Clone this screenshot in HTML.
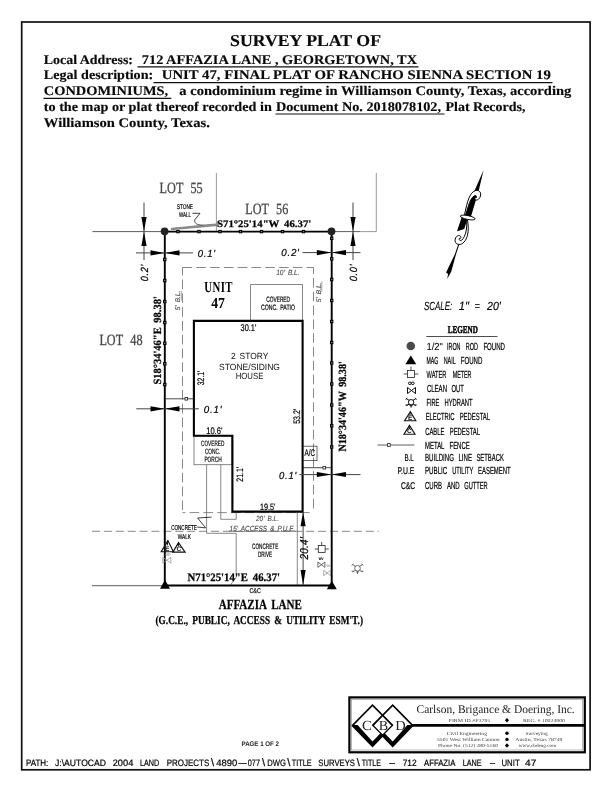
<!DOCTYPE html>
<html lang="en">
<head>
<meta charset="utf-8">
<title>Survey Plat - 712 Affazia Lane</title>
<style>
html,body{margin:0;padding:0;background:#fff;}
body{width:612px;height:792px;overflow:hidden;}
svg{display:block;will-change:transform;transform:translateZ(0);}
text{white-space:pre;text-rendering:geometricPrecision;}
</style>
</head>
<body>
<svg width="612" height="792" viewBox="0 0 612 792">
<rect x="0" y="0" width="612" height="792" fill="#fff"/>
<rect x="21.70" y="22.00" width="568.40" height="747.80" stroke="#111" stroke-width="1.7" fill="none"/>
<text x="230.00" y="46.30" font-family='"Liberation Serif", serif' font-size="16.62" fill="#0a0a0a" font-weight="bold" textLength="151.00" lengthAdjust="spacingAndGlyphs" stroke="#0a0a0a" stroke-width="0.15"  xml:space="preserve">SURVEY PLAT OF</text>
<text x="43.80" y="63.50" font-family='"Liberation Serif", serif' font-size="13.29" fill="#0a0a0a" font-weight="bold" textLength="89.20" lengthAdjust="spacingAndGlyphs" stroke="#0a0a0a" stroke-width="0.15"  xml:space="preserve">Local Address:</text>
<text x="141.80" y="63.50" font-family='"Liberation Serif", serif' font-size="13.29" fill="#0a0a0a" font-weight="bold" textLength="275.20" lengthAdjust="spacingAndGlyphs" stroke="#0a0a0a" stroke-width="0.15"  xml:space="preserve">712 AFFAZIA LANE , GEORGETOWN, TX</text>
<line x1="137.50" y1="66.80" x2="418.50" y2="66.80" stroke="#111" stroke-width="1.2" />
<text x="43.80" y="79.30" font-family='"Liberation Serif", serif' font-size="13.29" fill="#0a0a0a" font-weight="bold" textLength="109.40" lengthAdjust="spacingAndGlyphs" stroke="#0a0a0a" stroke-width="0.15"  xml:space="preserve">Legal description:</text>
<text x="161.80" y="79.30" font-family='"Liberation Serif", serif' font-size="13.29" fill="#0a0a0a" font-weight="bold" textLength="389.00" lengthAdjust="spacingAndGlyphs" stroke="#0a0a0a" stroke-width="0.15"  xml:space="preserve">UNIT 47, FINAL PLAT OF RANCHO SIENNA SECTION 19</text>
<line x1="153.50" y1="82.60" x2="552.50" y2="82.60" stroke="#111" stroke-width="1.2" />
<text x="43.80" y="95.00" font-family='"Liberation Serif", serif' font-size="13.29" fill="#0a0a0a" font-weight="bold" textLength="124.40" lengthAdjust="spacingAndGlyphs" stroke="#0a0a0a" stroke-width="0.15"  xml:space="preserve">CONDOMINIUMS,</text>
<line x1="43.50" y1="98.30" x2="171.30" y2="98.30" stroke="#111" stroke-width="1.2" />
<text x="179.30" y="95.00" font-family='"Liberation Serif", serif' font-size="13.29" fill="#0a0a0a" font-weight="bold" textLength="392.00" lengthAdjust="spacingAndGlyphs" stroke="#0a0a0a" stroke-width="0.15"  xml:space="preserve">a condominium regime in Williamson County, Texas, according</text>
<text x="43.80" y="110.70" font-family='"Liberation Serif", serif' font-size="13.29" fill="#0a0a0a" font-weight="bold" textLength="228.00" lengthAdjust="spacingAndGlyphs" stroke="#0a0a0a" stroke-width="0.15"  xml:space="preserve">to the map or plat thereof recorded in</text>
<text x="276.00" y="110.70" font-family='"Liberation Serif", serif' font-size="13.29" fill="#0a0a0a" font-weight="bold" textLength="165.00" lengthAdjust="spacingAndGlyphs" stroke="#0a0a0a" stroke-width="0.15"  xml:space="preserve">Document No. 2018078102,</text>
<line x1="275.50" y1="114.00" x2="444.50" y2="114.00" stroke="#111" stroke-width="1.2" />
<text x="445.50" y="110.70" font-family='"Liberation Serif", serif' font-size="13.29" fill="#0a0a0a" font-weight="bold" textLength="80.00" lengthAdjust="spacingAndGlyphs" stroke="#0a0a0a" stroke-width="0.15"  xml:space="preserve">Plat Records,</text>
<text x="43.80" y="126.50" font-family='"Liberation Serif", serif' font-size="13.29" fill="#0a0a0a" font-weight="bold" textLength="166.00" lengthAdjust="spacingAndGlyphs" stroke="#0a0a0a" stroke-width="0.15"  xml:space="preserve">Williamson County, Texas.</text>
<line x1="92.50" y1="231.60" x2="165.00" y2="231.60" stroke="#333" stroke-width="0.8" />
<line x1="216.40" y1="173.00" x2="216.40" y2="231.00" stroke="#808080" stroke-width="0.8" />
<line x1="376.30" y1="173.00" x2="376.30" y2="231.60" stroke="#808080" stroke-width="0.8" />
<line x1="331.50" y1="231.60" x2="360.00" y2="231.60" stroke="#333" stroke-width="0.8" />
<line x1="360.00" y1="231.60" x2="376.30" y2="231.60" stroke="#808080" stroke-width="0.8" />
<line x1="92.00" y1="585.70" x2="165.00" y2="585.70" stroke="#333" stroke-width="0.8" />
<line x1="92.00" y1="531.30" x2="378.80" y2="531.30" stroke="#6a6a6a" stroke-width="0.8" stroke-dasharray="8 3.9"/>
<text x="159.60" y="193.20" font-family='"Liberation Serif", serif' font-size="15.56" fill="#484848" textLength="43.10" lengthAdjust="spacingAndGlyphs" word-spacing="5.45" stroke="#484848" stroke-width="0.3"  xml:space="preserve">LOT 55</text>
<text x="245.20" y="214.00" font-family='"Liberation Serif", serif' font-size="15.56" fill="#484848" textLength="43.10" lengthAdjust="spacingAndGlyphs" word-spacing="5.45" stroke="#484848" stroke-width="0.3"  xml:space="preserve">LOT 56</text>
<text x="99.40" y="344.70" font-family='"Liberation Serif", serif' font-size="15.56" fill="#484848" textLength="43.10" lengthAdjust="spacingAndGlyphs" word-spacing="5.45" stroke="#484848" stroke-width="0.3"  xml:space="preserve">LOT 48</text>
<line x1="182.50" y1="267.50" x2="313.50" y2="267.50" stroke="#6a6a6a" stroke-width="0.8" stroke-dasharray="9.6 4.2"/>
<line x1="182.50" y1="267.50" x2="182.50" y2="512.60" stroke="#6a6a6a" stroke-width="0.8" stroke-dasharray="9.6 4.2" stroke-dashoffset="1.7"/>
<line x1="313.50" y1="267.50" x2="313.50" y2="512.60" stroke="#6a6a6a" stroke-width="0.8" stroke-dasharray="9.6 4.2" stroke-dashoffset="3.3"/>
<line x1="182.50" y1="512.60" x2="313.50" y2="512.60" stroke="#6a6a6a" stroke-width="0.8" stroke-dasharray="9.6 4.2" stroke-dashoffset="6.7"/>
<path d="M250.5 320.5 V284.5 H302.5 V320.5" stroke="#6a6a6a" stroke-width="0.8" fill="none" />
<rect x="194.00" y="436.00" width="38.00" height="28.70" stroke="#6a6a6a" stroke-width="0.8" fill="none"/>
<path d="M206.6 464.7 V533.3 H236.2 V577.5 L230.0 585.5" stroke="#6a6a6a" stroke-width="0.8" fill="none" />
<path d="M220.8 464.7 V519.3 H236.2 V512.5" stroke="#6a6a6a" stroke-width="0.8" fill="none" />
<line x1="297.30" y1="512.50" x2="297.30" y2="585.00" stroke="#6a6a6a" stroke-width="0.8" />
<rect x="302.60" y="446.20" width="14.40" height="14.40" stroke="#444" stroke-width="0.8" fill="none"/>
<path d="M164.8 231.6 H331.7 V585.5 H164.8 Z" stroke="#000" stroke-width="1.9" fill="none" />
<rect x="176.80" y="230.40" width="2.40" height="2.40" stroke="#000" stroke-width="1.0" fill="#777"/>
<rect x="197.80" y="230.40" width="2.40" height="2.40" stroke="#000" stroke-width="1.0" fill="#777"/>
<rect x="218.80" y="230.40" width="2.40" height="2.40" stroke="#000" stroke-width="1.0" fill="#777"/>
<rect x="239.30" y="230.40" width="2.40" height="2.40" stroke="#000" stroke-width="1.0" fill="#777"/>
<rect x="260.30" y="230.40" width="2.40" height="2.40" stroke="#000" stroke-width="1.0" fill="#777"/>
<rect x="281.30" y="230.40" width="2.40" height="2.40" stroke="#000" stroke-width="1.0" fill="#777"/>
<rect x="302.30" y="230.40" width="2.40" height="2.40" stroke="#000" stroke-width="1.0" fill="#777"/>
<rect x="163.60" y="258.30" width="2.40" height="2.40" stroke="#000" stroke-width="1.0" fill="#777"/>
<rect x="163.60" y="279.30" width="2.40" height="2.40" stroke="#000" stroke-width="1.0" fill="#777"/>
<rect x="163.60" y="300.30" width="2.40" height="2.40" stroke="#000" stroke-width="1.0" fill="#777"/>
<rect x="163.60" y="321.30" width="2.40" height="2.40" stroke="#000" stroke-width="1.0" fill="#777"/>
<rect x="163.60" y="342.10" width="2.40" height="2.40" stroke="#000" stroke-width="1.0" fill="#777"/>
<rect x="163.60" y="362.60" width="2.40" height="2.40" stroke="#000" stroke-width="1.0" fill="#777"/>
<rect x="163.60" y="383.30" width="2.40" height="2.40" stroke="#000" stroke-width="1.0" fill="#777"/>
<rect x="330.50" y="237.10" width="2.40" height="2.40" stroke="#000" stroke-width="1.0" fill="#777"/>
<rect x="330.50" y="257.60" width="2.40" height="2.40" stroke="#000" stroke-width="1.0" fill="#777"/>
<rect x="330.50" y="278.30" width="2.40" height="2.40" stroke="#000" stroke-width="1.0" fill="#777"/>
<rect x="330.50" y="299.30" width="2.40" height="2.40" stroke="#000" stroke-width="1.0" fill="#777"/>
<rect x="330.50" y="320.30" width="2.40" height="2.40" stroke="#000" stroke-width="1.0" fill="#777"/>
<rect x="330.50" y="341.30" width="2.40" height="2.40" stroke="#000" stroke-width="1.0" fill="#777"/>
<rect x="330.50" y="361.80" width="2.40" height="2.40" stroke="#000" stroke-width="1.0" fill="#777"/>
<rect x="330.50" y="382.80" width="2.40" height="2.40" stroke="#000" stroke-width="1.0" fill="#777"/>
<rect x="330.50" y="403.80" width="2.40" height="2.40" stroke="#000" stroke-width="1.0" fill="#777"/>
<rect x="330.50" y="424.60" width="2.40" height="2.40" stroke="#000" stroke-width="1.0" fill="#777"/>
<rect x="330.50" y="445.80" width="2.40" height="2.40" stroke="#000" stroke-width="1.0" fill="#777"/>
<line x1="164.80" y1="398.80" x2="193.50" y2="398.80" stroke="#333" stroke-width="0.9" />
<rect x="185.00" y="397.50" width="2.60" height="2.60" stroke="#222" stroke-width="0.8" fill="#fff"/>
<line x1="303.00" y1="467.70" x2="331.70" y2="467.70" stroke="#333" stroke-width="0.9" />
<rect x="323.00" y="466.40" width="2.60" height="2.60" stroke="#222" stroke-width="0.8" fill="#fff"/>
<circle cx="164.6" cy="231.3" r="3.9" fill="#222"/>
<circle cx="331.5" cy="231.3" r="3.9" fill="#222"/>
<polygon points="165.00,579.80 160.00,588.80 170.00,588.80" fill="#000" stroke="none" stroke-width="0"/>
<polygon points="331.80,580.80 326.80,589.30 336.80,589.30" fill="#000" stroke="none" stroke-width="0"/>
<path d="M193.9 320.9 H302.6 V511.6 H232.4 V435.7 H193.9 Z" stroke="#000" stroke-width="2.1" fill="none" />
<line x1="144.00" y1="202.50" x2="144.00" y2="260.00" stroke="#444" stroke-width="1.0" />
<polygon points="144.00,231.60 141.40,217.00 146.60,217.00" fill="#000" stroke="none" stroke-width="0"/>
<polygon points="144.00,231.60 141.40,246.00 146.60,246.00" fill="#000" stroke="none" stroke-width="0"/>
<line x1="136.00" y1="252.90" x2="193.00" y2="252.90" stroke="#444" stroke-width="1.0" />
<polygon points="164.80,252.90 150.50,250.30 150.50,255.50" fill="#000" stroke="none" stroke-width="0"/>
<polygon points="164.80,252.90 179.50,250.30 179.50,255.50" fill="#000" stroke="none" stroke-width="0"/>
<line x1="353.00" y1="202.50" x2="353.00" y2="260.00" stroke="#444" stroke-width="1.0" />
<polygon points="353.00,231.60 350.40,217.00 355.60,217.00" fill="#000" stroke="none" stroke-width="0"/>
<polygon points="353.00,231.60 350.40,246.00 355.60,246.00" fill="#000" stroke="none" stroke-width="0"/>
<line x1="302.50" y1="252.60" x2="360.50" y2="252.60" stroke="#444" stroke-width="1.0" />
<polygon points="331.60,252.60 316.80,250.00 316.80,255.20" fill="#000" stroke="none" stroke-width="0"/>
<polygon points="331.60,252.60 346.00,250.00 346.00,255.20" fill="#000" stroke="none" stroke-width="0"/>
<line x1="136.30" y1="408.80" x2="198.80" y2="408.80" stroke="#444" stroke-width="1.0" />
<polygon points="164.80,408.80 150.50,406.20 150.50,411.40" fill="#000" stroke="none" stroke-width="0"/>
<polygon points="164.80,408.80 179.50,406.20 179.50,411.40" fill="#000" stroke="none" stroke-width="0"/>
<line x1="299.30" y1="474.60" x2="360.50" y2="474.60" stroke="#444" stroke-width="1.0" />
<polygon points="331.60,474.50 316.80,471.90 316.80,477.10" fill="#000" stroke="none" stroke-width="0"/>
<polygon points="331.60,474.50 346.00,471.90 346.00,477.10" fill="#000" stroke="none" stroke-width="0"/>
<line x1="303.10" y1="512.00" x2="303.10" y2="585.00" stroke="#444" stroke-width="1.0" />
<polygon points="303.10,512.20 300.50,526.30 305.70,526.30" fill="#000" stroke="none" stroke-width="0"/>
<polygon points="303.10,585.00 300.50,570.00 305.70,570.00" fill="#000" stroke="none" stroke-width="0"/>
<text x="197.80" y="257.00" font-family='"Liberation Sans", sans-serif' font-size="10.20" fill="#000" font-style="italic" textLength="17.96" lengthAdjust="spacingAndGlyphs" word-spacing="2.55" letter-spacing="0.82" stroke="#000" stroke-width="0.22"  xml:space="preserve">0.1&#x27;</text>
<text x="281.20" y="256.30" font-family='"Liberation Sans", sans-serif' font-size="10.20" fill="#000" font-style="italic" textLength="18.58" lengthAdjust="spacingAndGlyphs" word-spacing="2.55" letter-spacing="0.82" stroke="#000" stroke-width="0.22"  xml:space="preserve">0.2&#x27;</text>
<text x="203.80" y="412.70" font-family='"Liberation Sans", sans-serif' font-size="10.20" fill="#000" font-style="italic" textLength="18.58" lengthAdjust="spacingAndGlyphs" word-spacing="2.55" letter-spacing="0.82" stroke="#000" stroke-width="0.22"  xml:space="preserve">0.1&#x27;</text>
<text x="279.00" y="478.70" font-family='"Liberation Sans", sans-serif' font-size="10.20" fill="#000" font-style="italic" textLength="17.96" lengthAdjust="spacingAndGlyphs" word-spacing="2.55" letter-spacing="0.82" stroke="#000" stroke-width="0.22"  xml:space="preserve">0.1&#x27;</text>
<text x="0" y="0" font-family='"Liberation Sans", sans-serif' font-size="10.34" fill="#000" font-style="italic" textLength="17.22" lengthAdjust="spacingAndGlyphs" word-spacing="2.58" letter-spacing="0.83" stroke="#000" stroke-width="0.22" transform="translate(148.00,281.30) rotate(-90)"  xml:space="preserve">0.2&#x27;</text>
<text x="0" y="0" font-family='"Liberation Sans", sans-serif' font-size="10.34" fill="#000" font-style="italic" textLength="17.54" lengthAdjust="spacingAndGlyphs" word-spacing="2.58" letter-spacing="0.83" stroke="#000" stroke-width="0.22" transform="translate(357.00,281.30) rotate(-90)"  xml:space="preserve">0.0&#x27;</text>
<text x="0" y="0" font-family='"Liberation Sans", sans-serif' font-size="11.45" fill="#000" font-style="italic" textLength="22.70" lengthAdjust="spacingAndGlyphs" word-spacing="2.86" letter-spacing="0.34" stroke="#000" stroke-width="0.22" transform="translate(308.00,559.60) rotate(-90)"  xml:space="preserve">20.4&#x27;</text>
<text x="217.00" y="227.00" font-family='"Liberation Serif", serif' font-size="9.97" fill="#000" font-weight="bold" textLength="94.30" lengthAdjust="spacingAndGlyphs" word-spacing="1.99" stroke="#000" stroke-width="0.25"  xml:space="preserve">S71°25&#x27;14&quot;W 46.37&#x27;</text>
<text x="187.50" y="581.30" font-family='"Liberation Serif", serif' font-size="11.48" fill="#000" font-weight="bold" textLength="92.50" lengthAdjust="spacingAndGlyphs" word-spacing="2.30" stroke="#000" stroke-width="0.25"  xml:space="preserve">N71°25&#x27;14&quot;E 46.37&#x27;</text>
<text x="0" y="0" font-family='"Liberation Serif", serif' font-size="11.03" fill="#000" font-weight="bold" textLength="88.30" lengthAdjust="spacingAndGlyphs" word-spacing="2.21" stroke="#000" stroke-width="0.25" transform="translate(160.70,384.50) rotate(-90)"  xml:space="preserve">S18°34&#x27;46&quot;E 98.38&#x27;</text>
<text x="0" y="0" font-family='"Liberation Serif", serif' font-size="11.03" fill="#000" font-weight="bold" textLength="90.40" lengthAdjust="spacingAndGlyphs" word-spacing="2.21" stroke="#000" stroke-width="0.25" transform="translate(346.00,451.60) rotate(-90)"  xml:space="preserve">N18°34&#x27;46&quot;W 98.38&#x27;</text>
<text x="204.20" y="292.00" font-family='"Liberation Serif", serif' font-size="15.41" fill="#000" font-weight="bold" textLength="28.73" lengthAdjust="spacingAndGlyphs" word-spacing="3.08" letter-spacing="0.62"  xml:space="preserve">UNIT</text>
<text x="211.20" y="307.70" font-family='"Liberation Serif", serif' font-size="15.11" fill="#000" font-weight="bold" textLength="13.70" lengthAdjust="spacingAndGlyphs" word-spacing="3.02"  xml:space="preserve">47</text>
<text x="176.90" y="208.50" font-family='"Liberation Sans", sans-serif' font-size="6.84" fill="#000" textLength="16.10" lengthAdjust="spacingAndGlyphs" word-spacing="1.71" stroke="#000" stroke-width="0.2"  xml:space="preserve">STONE</text>
<text x="178.90" y="216.70" font-family='"Liberation Sans", sans-serif' font-size="6.84" fill="#000" textLength="12.00" lengthAdjust="spacingAndGlyphs" word-spacing="1.71" stroke="#000" stroke-width="0.2"  xml:space="preserve">WALL</text>
<path d="M192.4 213.3 H200 L194.9 219.6 C194.0 222.6 196.5 224.6 200.0 225.0 C204 225.6 208 225.4 211 225.2" stroke="#111" stroke-width="0.8" fill="none" />
<polygon points="171.40,228.20 218.40,223.70 218.40,225.50 171.40,229.80" fill="#999" stroke="#444" stroke-width="0.5"/>
<text x="266.30" y="301.80" font-family='"Liberation Sans", sans-serif' font-size="7.82" fill="#000" textLength="23.70" lengthAdjust="spacingAndGlyphs" word-spacing="1.96" stroke="#000" stroke-width="0.2"  xml:space="preserve">COVERED</text>
<text x="261.00" y="310.00" font-family='"Liberation Sans", sans-serif' font-size="7.82" fill="#000" textLength="34.00" lengthAdjust="spacingAndGlyphs" word-spacing="1.96" stroke="#000" stroke-width="0.2"  xml:space="preserve">CONC. PATIO</text>
<text x="240.60" y="331.00" font-family='"Liberation Sans", sans-serif' font-size="9.78" fill="#000" textLength="15.80" lengthAdjust="spacingAndGlyphs" stroke="#000" stroke-width="0.2"  xml:space="preserve">30.1&#x27;</text>
<text x="230.90" y="358.70" font-family='"Liberation Sans", sans-serif' font-size="8.94" fill="#111" textLength="37.40" lengthAdjust="spacingAndGlyphs" word-spacing="1.79"  xml:space="preserve">2 STORY</text>
<text x="219.10" y="369.90" font-family='"Liberation Sans", sans-serif' font-size="8.94" fill="#111" textLength="60.90" lengthAdjust="spacingAndGlyphs" word-spacing="1.79"  xml:space="preserve">STONE/SIDING</text>
<text x="235.70" y="379.20" font-family='"Liberation Sans", sans-serif' font-size="8.94" fill="#111" textLength="27.70" lengthAdjust="spacingAndGlyphs" word-spacing="1.79"  xml:space="preserve">HOUSE</text>
<text x="0" y="0" font-family='"Liberation Sans", sans-serif' font-size="9.50" fill="#000" textLength="14.60" lengthAdjust="spacingAndGlyphs" stroke="#000" stroke-width="0.2" transform="translate(204.40,385.20) rotate(-90)"  xml:space="preserve">32.1&#x27;</text>
<text x="206.20" y="433.70" font-family='"Liberation Sans", sans-serif' font-size="9.50" fill="#000" textLength="16.20" lengthAdjust="spacingAndGlyphs" stroke="#000" stroke-width="0.2"  xml:space="preserve">10.6&#x27;</text>
<text x="201.00" y="445.60" font-family='"Liberation Sans", sans-serif' font-size="7.68" fill="#000" textLength="23.40" lengthAdjust="spacingAndGlyphs" word-spacing="1.92" stroke="#000" stroke-width="0.2"  xml:space="preserve">COVERED</text>
<text x="204.90" y="454.10" font-family='"Liberation Sans", sans-serif' font-size="7.68" fill="#000" textLength="15.50" lengthAdjust="spacingAndGlyphs" word-spacing="1.92" stroke="#000" stroke-width="0.2"  xml:space="preserve">CONC.</text>
<text x="204.40" y="462.00" font-family='"Liberation Sans", sans-serif' font-size="7.68" fill="#000" textLength="17.40" lengthAdjust="spacingAndGlyphs" word-spacing="1.92" stroke="#000" stroke-width="0.2"  xml:space="preserve">PORCH</text>
<text x="0" y="0" font-family='"Liberation Sans", sans-serif' font-size="9.50" fill="#000" textLength="15.00" lengthAdjust="spacingAndGlyphs" stroke="#000" stroke-width="0.2" transform="translate(300.30,423.80) rotate(-90)"  xml:space="preserve">53.2&#x27;</text>
<text x="0" y="0" font-family='"Liberation Sans", sans-serif' font-size="9.50" fill="#000" textLength="14.90" lengthAdjust="spacingAndGlyphs" stroke="#000" stroke-width="0.2" transform="translate(243.00,481.70) rotate(-90)"  xml:space="preserve">21.1&#x27;</text>
<text x="260.00" y="510.00" font-family='"Liberation Sans", sans-serif' font-size="9.22" fill="#000" textLength="15.50" lengthAdjust="spacingAndGlyphs" stroke="#000" stroke-width="0.2"  xml:space="preserve">19.5&#x27;</text>
<text x="304.40" y="456.40" font-family='"Liberation Sans", sans-serif' font-size="9.50" fill="#000" textLength="10.60" lengthAdjust="spacingAndGlyphs" word-spacing="2.37" stroke="#000" stroke-width="0.2"  xml:space="preserve">A/C</text>
<text x="171.20" y="530.00" font-family='"Liberation Sans", sans-serif' font-size="7.12" fill="#000" textLength="25.70" lengthAdjust="spacingAndGlyphs" word-spacing="1.78" stroke="#000" stroke-width="0.2"  xml:space="preserve">CONCRETE</text>
<text x="177.80" y="538.60" font-family='"Liberation Sans", sans-serif' font-size="6.84" fill="#000" textLength="13.20" lengthAdjust="spacingAndGlyphs" word-spacing="1.71" stroke="#000" stroke-width="0.2"  xml:space="preserve">WALK</text>
<path d="M211.6 517.1 L197.6 518.0 L205.7 527.9 L197.2 527.0" stroke="#111" stroke-width="0.8" fill="none" />
<text x="252.00" y="548.80" font-family='"Liberation Sans", sans-serif' font-size="7.82" fill="#000" textLength="26.30" lengthAdjust="spacingAndGlyphs" word-spacing="1.96" stroke="#000" stroke-width="0.2"  xml:space="preserve">CONCRETE</text>
<text x="258.00" y="557.00" font-family='"Liberation Sans", sans-serif' font-size="7.82" fill="#000" textLength="14.00" lengthAdjust="spacingAndGlyphs" word-spacing="1.96" stroke="#000" stroke-width="0.2"  xml:space="preserve">DRIVE</text>
<text x="249.50" y="593.00" font-family='"Liberation Sans", sans-serif' font-size="6.98" fill="#000" textLength="11.30" lengthAdjust="spacingAndGlyphs" word-spacing="1.75" stroke="#000" stroke-width="0.2"  xml:space="preserve">C&amp;C</text>
<text x="276.20" y="275.20" font-family='"Liberation Sans", sans-serif' font-size="7.54" fill="#484848" font-style="italic" textLength="23.40" lengthAdjust="spacingAndGlyphs" word-spacing="1.51" stroke="#484848" stroke-width="0.12"  xml:space="preserve">10&#x27; B.L.</text>
<text x="0" y="0" font-family='"Liberation Sans", sans-serif' font-size="6.98" fill="#484848" font-style="italic" textLength="19.60" lengthAdjust="spacingAndGlyphs" word-spacing="1.40" stroke="#484848" stroke-width="0.12" transform="translate(180.20,310.30) rotate(-90)"  xml:space="preserve">5&#x27; B.L.</text>
<line x1="181.30" y1="290.70" x2="181.30" y2="300.50" stroke="#666" stroke-width="0.6" />
<text x="0" y="0" font-family='"Liberation Sans", sans-serif' font-size="6.84" fill="#484848" font-style="italic" textLength="19.60" lengthAdjust="spacingAndGlyphs" word-spacing="1.37" stroke="#484848" stroke-width="0.12" transform="translate(321.00,302.20) rotate(-90)"  xml:space="preserve">5&#x27; B.L.</text>
<line x1="321.80" y1="281.40" x2="321.80" y2="291.90" stroke="#666" stroke-width="0.6" />
<text x="256.00" y="520.90" font-family='"Liberation Sans", sans-serif' font-size="7.40" fill="#484848" font-style="italic" textLength="23.00" lengthAdjust="spacingAndGlyphs" word-spacing="1.48" stroke="#484848" stroke-width="0.12"  xml:space="preserve">20&#x27; B.L.</text>
<text x="229.60" y="530.60" font-family='"Liberation Sans", sans-serif' font-size="7.40" fill="#484848" font-style="italic" textLength="65.60" lengthAdjust="spacingAndGlyphs" word-spacing="1.48" stroke="#484848" stroke-width="0.12"  xml:space="preserve">15&#x27; ACCESS &amp; P.U.E.</text>
<line x1="229.00" y1="531.40" x2="295.60" y2="531.40" stroke="#666" stroke-width="0.7" />
<text x="218.80" y="608.80" font-family='"Liberation Serif", serif' font-size="13.90" fill="#000" font-weight="bold" textLength="83.00" lengthAdjust="spacingAndGlyphs" word-spacing="2.78" stroke="#000" stroke-width="0.25"  xml:space="preserve">AFFAZIA LANE</text>
<text x="155.50" y="623.80" font-family='"Liberation Serif", serif' font-size="12.08" fill="#000" font-weight="bold" textLength="207.50" lengthAdjust="spacingAndGlyphs" word-spacing="2.42" stroke="#000" stroke-width="0.25"  xml:space="preserve">(G.C.E., PUBLIC, ACCESS &amp; UTILITY ESM&#x27;T.)</text>
<path d="M167.9 540.6 L161.2 551.7 H173.4 Z" stroke="#111" stroke-width="1.15" fill="none" />
<path d="M167.9 540.6 L167.20 545.35" stroke="#111" stroke-width="1.035" fill="none" />
<text x="167.20" y="550.80" font-family='"Liberation Sans", sans-serif' font-size="6.56" fill="#111" font-weight="bold" text-anchor="middle"  xml:space="preserve">E</text>
<path d="M178.5 542.6 L172.9 552.1 H185.1 Z" stroke="#111" stroke-width="1.15" fill="none" />
<path d="M178.5 542.6 L178.35 546.55" stroke="#111" stroke-width="1.035" fill="none" />
<text x="178.90" y="551.20" font-family='"Liberation Sans", sans-serif' font-size="6.56" fill="#111" font-weight="bold" text-anchor="middle"  xml:space="preserve">C</text>
<ellipse cx="167.0" cy="554.5" rx="1.1" ry="0.9" stroke="#999" stroke-width="0.6" fill="none"/>
<ellipse cx="169.0" cy="554.5" rx="1.1" ry="0.9" stroke="#999" stroke-width="0.6" fill="none"/>
<path d="M162.80 557.30 L170.80 563.10 V557.30 L162.80 563.10 Z" stroke="#999" stroke-width="0.8" fill="none" />
<rect x="318.30" y="545.60" width="6.80" height="6.80" stroke="#222" stroke-width="0.8" fill="none"/>
<line x1="314.60" y1="549.00" x2="318.30" y2="549.00" stroke="#222" stroke-width="0.8" />
<line x1="325.10" y1="549.00" x2="328.80" y2="549.00" stroke="#222" stroke-width="0.8" />
<line x1="321.70" y1="541.90" x2="321.70" y2="545.60" stroke="#222" stroke-width="0.8" />
<text x="318.80" y="559.60" font-family='"Liberation Sans", sans-serif' font-size="3.63" fill="#000" textLength="4.60" lengthAdjust="spacingAndGlyphs" word-spacing="0.91" stroke="#000" stroke-width="0.2"  xml:space="preserve">WV</text>
<path d="M317.90 562.00 L324.90 567.40 V562.00 L317.90 567.40 Z" stroke="#333" stroke-width="0.7" fill="none" />
<text x="326.40" y="567.00" font-family='"Liberation Sans", sans-serif' font-size="3.63" fill="#777" textLength="4.60" lengthAdjust="spacingAndGlyphs"  xml:space="preserve">WV</text>
<path d="M323.70 570.30 L330.50 575.70 V570.30 L323.70 575.70 Z" stroke="#888" stroke-width="0.7" fill="none" />
<g transform="translate(357.5,568.3) scale(1.05)" stroke="#686868" stroke-width="0.95" fill="none"><circle cx="0" cy="0" r="2.7"/><path d="M-1.9 -1.9 L-4.6 -3.4 M1.9 -1.9 L4.6 -3.4 M-2.0 2.0 L-4.8 3.4 M2.0 2.0 L4.8 3.4"/><path d="M-5.4 -2.6 L-4.0 -4.4 M5.4 -2.6 L4.0 -4.4 M-5.6 2.8 H-3.4 M5.6 2.8 H3.4"/><path d="M-1.6 3.5 H1.6 M0 2.7 V5.4"/></g>
<g id="north" transform="translate(483.6,170.1) rotate(18.5)"><g fill="#000" stroke="none"><polygon points="0,0 2.0,22 2.2,30 2.8,50 -3.6,50 -2.4,30 -2.0,22"/><polygon points="-5.9,50 0.3,50 0.3,62.0 -5.8,66.5"/><polygon points="-0.5,77 0.5,77 0.55,89 1.5,106.6 0,114.8 -0.7,109.8 -3.1,109.0 -0.55,89"/></g><g fill="#fff" stroke="#000" stroke-width="0.9" stroke-linejoin="round"><path d="M-3.9 48.5 C-4.6 42 -5.4 36 -5.0 31 C-4.6 25.6 -2.6 21.8 0.8 21.2 C3.8 20.8 5.6 23.6 5.2 26.8 C4.8 30 2.4 31.6 1.0 30.4 C0.3 29.6 0.8 28.4 1.9 28.5 C2.1 26.6 0.2 26.2 -0.8 27.6 C-2.6 29.8 -3.3 34 -3.1 38 L-2.8 48.5 Z"/><ellipse cx="0" cy="50" rx="7.6" ry="1.9" transform="rotate(-7 0 50)"/><path d="M0.6 52.5 C3.0 57 5.0 62 5.4 67 C5.8 72.6 3.8 77.4 0.2 78.4 C-3.2 79.2 -5.4 76.4 -5.0 73.2 C-4.6 70.2 -2.0 69.0 -0.4 70.4 C0.3 71.3 -0.2 72.5 -1.3 72.4 C-1.7 74.2 0.3 74.8 1.5 73.4 C3.0 71.2 3.2 67 2.7 63 C2.2 59.4 1.0 56 -0.2 53 Z"/></g></g>
<text y="309.60" font-family='"Liberation Sans", sans-serif' font-size="11.87" fill="#000" font-style="italic" stroke="#000" stroke-width="0.15"><tspan x="424.00" textLength="28.30" lengthAdjust="spacingAndGlyphs">SCALE:</tspan> <tspan x="458.80" textLength="10.20" lengthAdjust="spacingAndGlyphs">1&quot;</tspan> <tspan x="474.60" textLength="5.40" lengthAdjust="spacingAndGlyphs">=</tspan> <tspan x="487.00" textLength="13.80" lengthAdjust="spacingAndGlyphs">20&#x27;</tspan></text>
<text x="447.80" y="332.50" font-family='"Liberation Serif", serif' font-size="10.42" fill="#000" font-weight="bold" textLength="30.10" lengthAdjust="spacingAndGlyphs" word-spacing="2.08" stroke="#000" stroke-width="0.45"  xml:space="preserve">LEGEND</text>
<line x1="426.30" y1="336.50" x2="497.50" y2="336.50" stroke="#222" stroke-width="0.8" />
<circle cx="410.8" cy="346.0" r="4.3" fill="#4a4a4a"/>
<text y="350.10" font-family='"Liberation Sans", sans-serif' font-size="10.20" fill="#000" stroke="#000" stroke-width="0.22"><tspan x="426.50" textLength="16.40" lengthAdjust="spacingAndGlyphs" stroke-width="0.05">1/2&quot;</tspan> <tspan x="447.00" textLength="13.50" lengthAdjust="spacingAndGlyphs">IRON</tspan> <tspan x="465.80" textLength="12.20" lengthAdjust="spacingAndGlyphs">ROD</tspan> <tspan x="483.40" textLength="21.60" lengthAdjust="spacingAndGlyphs">FOUND</tspan></text>
<polygon points="410.80,355.50 405.40,364.30 416.30,364.30" fill="#000" stroke="none" stroke-width="0"/>
<text y="364.30" font-family='"Liberation Sans", sans-serif' font-size="10.20" fill="#000" stroke="#000" stroke-width="0.22"><tspan x="426.50" textLength="11.80" lengthAdjust="spacingAndGlyphs">MAG</tspan> <tspan x="443.70" textLength="11.90" lengthAdjust="spacingAndGlyphs">NAIL</tspan> <tspan x="460.80" textLength="21.60" lengthAdjust="spacingAndGlyphs">FOUND</tspan></text>
<rect x="407.50" y="370.50" width="7.00" height="7.00" stroke="#222" stroke-width="0.8" fill="none"/>
<line x1="403.70" y1="374.00" x2="407.50" y2="374.00" stroke="#222" stroke-width="0.8" />
<line x1="414.50" y1="374.00" x2="418.30" y2="374.00" stroke="#222" stroke-width="0.8" />
<line x1="411.00" y1="366.70" x2="411.00" y2="370.50" stroke="#222" stroke-width="0.8" />
<text y="377.60" font-family='"Liberation Sans", sans-serif' font-size="10.20" fill="#000" stroke="#000" stroke-width="0.22"><tspan x="426.50" textLength="20.00" lengthAdjust="spacingAndGlyphs">WATER</tspan> <tspan x="452.70" textLength="18.80" lengthAdjust="spacingAndGlyphs">METER</tspan></text>
<ellipse cx="409.8" cy="383.3" rx="1.4" ry="1.3" stroke="#111" stroke-width="1.0" fill="none"/>
<ellipse cx="412.8" cy="383.3" rx="1.4" ry="1.3" stroke="#111" stroke-width="1.0" fill="none"/>
<path d="M407.50 387.50 L415.50 393.50 V387.50 L407.50 393.50 Z" stroke="#111" stroke-width="1.0" fill="none" />
<text y="392.10" font-family='"Liberation Sans", sans-serif' font-size="10.20" fill="#000" stroke="#000" stroke-width="0.22"><tspan x="426.90" textLength="20.10" lengthAdjust="spacingAndGlyphs">CLEAN</tspan> <tspan x="451.40" textLength="12.40" lengthAdjust="spacingAndGlyphs">OUT</tspan></text>
<g transform="translate(411.1,402.2) scale(1.0)" stroke="#111" stroke-width="1.00" fill="none"><circle cx="0" cy="0" r="2.7"/><path d="M-1.9 -1.9 L-4.6 -3.4 M1.9 -1.9 L4.6 -3.4 M-2.0 2.0 L-4.8 3.4 M2.0 2.0 L4.8 3.4"/><path d="M-5.4 -2.6 L-4.0 -4.4 M5.4 -2.6 L4.0 -4.4 M-5.6 2.8 H-3.4 M5.6 2.8 H3.4"/><path d="M-1.6 3.5 H1.6 M0 2.7 V5.4"/></g>
<text y="406.20" font-family='"Liberation Sans", sans-serif' font-size="10.20" fill="#000" stroke="#000" stroke-width="0.22"><tspan x="426.50" textLength="12.80" lengthAdjust="spacingAndGlyphs">FIRE</tspan> <tspan x="444.50" textLength="28.10" lengthAdjust="spacingAndGlyphs">HYDRANT</tspan></text>
<path d="M410.3 411.7 L404.6 420.7 H415.8 Z" stroke="#111" stroke-width="1.15" fill="none" />
<path d="M410.3 411.7 L409.85 415.40" stroke="#111" stroke-width="1.035" fill="none" />
<text x="410.10" y="419.80" font-family='"Liberation Sans", sans-serif' font-size="6.56" fill="#111" font-weight="bold" text-anchor="middle"  xml:space="preserve">E</text>
<text y="420.40" font-family='"Liberation Sans", sans-serif' font-size="10.20" fill="#000" stroke="#000" stroke-width="0.22"><tspan x="425.70" textLength="28.90" lengthAdjust="spacingAndGlyphs">ELECTRIC</tspan> <tspan x="459.70" textLength="30.30" lengthAdjust="spacingAndGlyphs">PEDESTAL</tspan></text>
<path d="M409.5 425.4 L404.0 434.2 H415.0 Z" stroke="#111" stroke-width="1.15" fill="none" />
<path d="M409.5 425.4 L409.10 429.00" stroke="#111" stroke-width="1.035" fill="none" />
<text x="409.40" y="433.30" font-family='"Liberation Sans", sans-serif' font-size="6.56" fill="#111" font-weight="bold" text-anchor="middle"  xml:space="preserve">C</text>
<text y="434.80" font-family='"Liberation Sans", sans-serif' font-size="10.20" fill="#000" stroke="#000" stroke-width="0.22"><tspan x="425.20" textLength="19.30" lengthAdjust="spacingAndGlyphs">CABLE</tspan> <tspan x="449.70" textLength="30.40" lengthAdjust="spacingAndGlyphs">PEDESTAL</tspan></text>
<line x1="377.50" y1="445.00" x2="414.30" y2="445.00" stroke="#333" stroke-width="0.8" />
<rect x="387.40" y="443.60" width="2.80" height="2.80" stroke="#222" stroke-width="0.8" fill="#fff"/>
<text y="448.50" font-family='"Liberation Sans", sans-serif' font-size="10.20" fill="#000" stroke="#000" stroke-width="0.22"><tspan x="425.00" textLength="19.20" lengthAdjust="spacingAndGlyphs">METAL</tspan> <tspan x="449.50" textLength="20.20" lengthAdjust="spacingAndGlyphs">FENCE</tspan></text>
<text x="404.40" y="460.90" font-family='"Liberation Sans", sans-serif' font-size="9.78" fill="#000" textLength="9.40" lengthAdjust="spacingAndGlyphs" word-spacing="2.93" stroke="#000" stroke-width="0.22"  xml:space="preserve">B.L</text>
<text y="460.90" font-family='"Liberation Sans", sans-serif' font-size="10.20" fill="#000" stroke="#000" stroke-width="0.22"><tspan x="425.00" textLength="29.00" lengthAdjust="spacingAndGlyphs">BUILDING</tspan> <tspan x="458.40" textLength="13.60" lengthAdjust="spacingAndGlyphs">LINE</tspan> <tspan x="476.40" textLength="27.40" lengthAdjust="spacingAndGlyphs">SETBACK</tspan></text>
<text x="397.40" y="474.30" font-family='"Liberation Sans", sans-serif' font-size="9.78" fill="#000" textLength="17.00" lengthAdjust="spacingAndGlyphs" word-spacing="2.93" stroke="#000" stroke-width="0.22"  xml:space="preserve">P.U.E</text>
<text y="474.30" font-family='"Liberation Sans", sans-serif' font-size="10.20" fill="#000" stroke="#000" stroke-width="0.22"><tspan x="425.00" textLength="22.30" lengthAdjust="spacingAndGlyphs">PUBLIC</tspan> <tspan x="452.20" textLength="21.10" lengthAdjust="spacingAndGlyphs">UTILITY</tspan> <tspan x="478.10" textLength="32.50" lengthAdjust="spacingAndGlyphs">EASEMENT</tspan></text>
<text x="401.00" y="488.80" font-family='"Liberation Sans", sans-serif' font-size="9.78" fill="#000" textLength="14.00" lengthAdjust="spacingAndGlyphs" word-spacing="2.93" stroke="#000" stroke-width="0.22"  xml:space="preserve">C&amp;C</text>
<text y="488.80" font-family='"Liberation Sans", sans-serif' font-size="10.20" fill="#000" stroke="#000" stroke-width="0.22"><tspan x="425.00" textLength="17.00" lengthAdjust="spacingAndGlyphs">CURB</tspan> <tspan x="446.90" textLength="12.80" lengthAdjust="spacingAndGlyphs">AND</tspan> <tspan x="464.30" textLength="23.40" lengthAdjust="spacingAndGlyphs">GUTTER</tspan></text>
<text x="241.50" y="746.00" font-family='"Liberation Sans", sans-serif' font-size="6.70" fill="#222" font-weight="bold" textLength="37.50" lengthAdjust="spacingAndGlyphs"  xml:space="preserve">PAGE 1 OF 2</text>
<text y="765.80" font-family='"Liberation Sans", sans-serif' font-size="9.22" fill="#000" stroke="#000" stroke-width="0.2"><tspan x="26.00" textLength="22.30" lengthAdjust="spacingAndGlyphs">PATH:</tspan> <tspan x="55.00" textLength="51.00" lengthAdjust="spacingAndGlyphs">J:\AUTOCAD</tspan> <tspan x="112.70" textLength="20.60" lengthAdjust="spacingAndGlyphs">2004</tspan> <tspan x="140.00" textLength="19.30" lengthAdjust="spacingAndGlyphs">LAND</tspan> <tspan x="166.70" textLength="42.60" lengthAdjust="spacingAndGlyphs">PROJECTS</tspan><tspan x="211.06" font-size="11.06">\</tspan><tspan x="216.20" textLength="21.10" lengthAdjust="spacingAndGlyphs">4890</tspan><tspan x="238.40" textLength="8.20" lengthAdjust="spacingAndGlyphs">–</tspan><tspan x="247.70" textLength="12.30" lengthAdjust="spacingAndGlyphs">077</tspan><tspan x="261.96" font-size="11.06">\</tspan><tspan x="267.30" textLength="18.70" lengthAdjust="spacingAndGlyphs">DWG</tspan><tspan x="287.26" font-size="11.06">\</tspan><tspan x="291.80" textLength="19.90" lengthAdjust="spacingAndGlyphs">TITLE</tspan> <tspan x="318.30" textLength="36.70" lengthAdjust="spacingAndGlyphs">SURVEYS</tspan><tspan x="356.76" font-size="11.06">\</tspan><tspan x="361.80" textLength="19.20" lengthAdjust="spacingAndGlyphs">TITLE</tspan> <tspan x="389.30" textLength="5.70" lengthAdjust="spacingAndGlyphs">–</tspan> <tspan x="402.70" textLength="14.00" lengthAdjust="spacingAndGlyphs">712</tspan> <tspan x="424.00" textLength="31.00" lengthAdjust="spacingAndGlyphs">AFFAZIA</tspan> <tspan x="462.70" textLength="19.00" lengthAdjust="spacingAndGlyphs">LANE</tspan> <tspan x="490.00" textLength="5.00" lengthAdjust="spacingAndGlyphs">–</tspan> <tspan x="501.50" textLength="18.00" lengthAdjust="spacingAndGlyphs">UNIT</tspan> <tspan x="525.00" textLength="11.30" lengthAdjust="spacingAndGlyphs">47</tspan></text>
<rect x="349.40" y="697.40" width="235.40" height="54.90" stroke="#000" stroke-width="2.2" fill="none"/>
<rect x="351.50" y="699.60" width="231.20" height="50.40" stroke="#999" stroke-width="0.7" fill="none"/>
<line x1="411.00" y1="725.40" x2="584.00" y2="725.40" stroke="#000" stroke-width="2.9" />
<polygon points="351.40,725.70 372.50,747.50 382.60,737.00 392.70,747.50 413.60,725.70 412.80,724.90 407.40,724.90 392.70,741.40 382.60,730.90 372.50,741.40 357.60,724.90 352.40,724.90" fill="#000" stroke="none" stroke-width="0"/>
<path d="M352.3 725.6 L372.5 705.2 L392.8 725.6" stroke="#000" stroke-width="1.6" fill="none" stroke-linejoin="miter"/>
<path d="M372.4 725.6 L392.7 705.2 L412.8 725.6" stroke="#000" stroke-width="1.6" fill="none" stroke-linejoin="miter"/>
<path d="M373.0 725.5 L382.6 715.6 L392.3 725.5 L382.6 735.2 Z" stroke="#000" stroke-width="1.3" fill="#fff" />
<text x="362.00" y="730.30" font-family='"Liberation Serif", serif' font-size="13.90" fill="#222" textLength="9.80" lengthAdjust="spacingAndGlyphs"  xml:space="preserve">C</text>
<text x="378.70" y="730.30" font-family='"Liberation Serif", serif' font-size="13.90" fill="#222" textLength="9.40" lengthAdjust="spacingAndGlyphs"  xml:space="preserve">B</text>
<text x="395.30" y="730.30" font-family='"Liberation Serif", serif' font-size="13.90" fill="#222" textLength="10.50" lengthAdjust="spacingAndGlyphs"  xml:space="preserve">D</text>
<text x="416.50" y="713.20" font-family='"Liberation Serif", serif' font-size="11.78" fill="#222" textLength="158.20" lengthAdjust="spacingAndGlyphs"  xml:space="preserve">Carlson, Brigance &amp; Doering, Inc.</text>
<text x="448.60" y="721.60" font-family='"Liberation Serif", serif' font-size="4.68" fill="#444" textLength="41.80" lengthAdjust="spacingAndGlyphs"  xml:space="preserve">FIRM ID #F3791</text>
<text x="523.00" y="721.60" font-family='"Liberation Serif", serif' font-size="4.68" fill="#444" textLength="42.00" lengthAdjust="spacingAndGlyphs"  xml:space="preserve">REG. # 10024900</text>
<text x="446.80" y="734.60" font-family='"Liberation Serif", serif' font-size="4.68" fill="#444" textLength="40.20" lengthAdjust="spacingAndGlyphs"  xml:space="preserve">Civil Engineering</text>
<text x="525.60" y="734.60" font-family='"Liberation Serif", serif' font-size="4.68" fill="#444" textLength="22.00" lengthAdjust="spacingAndGlyphs"  xml:space="preserve">Surveying</text>
<text x="437.00" y="740.80" font-family='"Liberation Serif", serif' font-size="4.68" fill="#444" textLength="62.70" lengthAdjust="spacingAndGlyphs"  xml:space="preserve">5501 West William Cannon</text>
<text x="515.30" y="740.80" font-family='"Liberation Serif", serif' font-size="4.68" fill="#444" textLength="47.10" lengthAdjust="spacingAndGlyphs"  xml:space="preserve">Austin, Texas 78749</text>
<text x="438.00" y="746.90" font-family='"Liberation Serif", serif' font-size="4.68" fill="#444" textLength="60.00" lengthAdjust="spacingAndGlyphs"  xml:space="preserve">Phone No. (512) 280-5160</text>
<text x="518.80" y="746.90" font-family='"Liberation Serif", serif' font-size="4.68" fill="#444" textLength="37.40" lengthAdjust="spacingAndGlyphs"  xml:space="preserve">www.cbdeng.com</text>
<polygon points="507.00,718.00 509.10,720.30 507.00,722.60 504.90,720.30" fill="#000" stroke="none" stroke-width="0"/>
<circle cx="507.0" cy="733.2" r="1.7" fill="#000"/>
<circle cx="507.0" cy="739.4" r="1.7" fill="#000"/>
<polygon points="507.00,743.20 509.10,745.50 507.00,747.80 504.90,745.50" fill="#000" stroke="none" stroke-width="0"/>
</svg>
</body>
</html>
